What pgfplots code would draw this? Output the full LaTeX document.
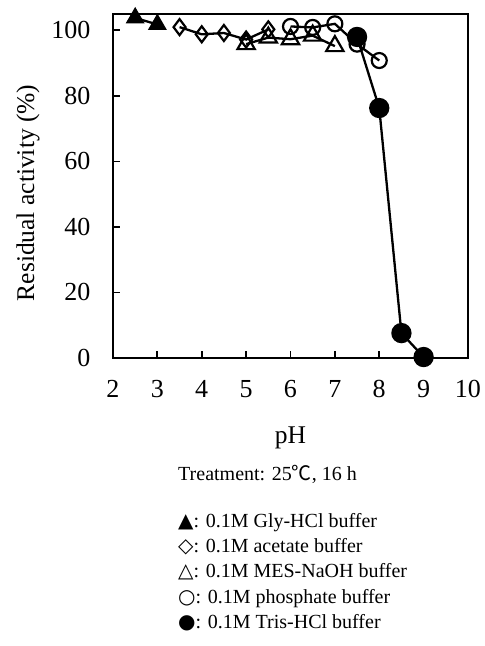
\documentclass[border=0pt]{standalone}
\usepackage{fontspec}
\setmainfont{Liberation Serif}
\newfontfamily\symfont{DejaVu Sans}
\newfontfamily\cjk{Noto Sans CJK JP}
\usepackage{pgfplots}
\pgfplotsset{compat=1.18}

\begin{document}
\begin{tikzpicture}
\begin{axis}[
  name=main, at={(0,0)}, anchor=south west,
  scale only axis, width=355pt, height=344pt,
  xmin=2, xmax=10, ymin=0, ymax=105,
  xtick={2,...,10}, ytick={0,20,...,100},
  tick align=inside, tick pos=left, major tick length=7pt,
  axis line style={line width=2.3pt},
  every tick/.style={line width=1.8pt, black},
  ticklabel style={font=\fontsize{26}{30}\selectfont},
  /pgf/number format/assume math mode=true,
  yticklabel shift=19pt, xticklabel shift=19pt,
  xlabel={pH}, ylabel={Residual activity (\%)},
  label style={font=\fontsize{25.5}{30}\selectfont},
  xlabel style={at={(axis description cs:0.5,0)}, anchor=base, yshift=-85pt},
  ylabel style={at={(axis description cs:-0.239,0.48)}, anchor=center},
  clip=false,
  every axis plot/.append style={line width=2.3pt, black},
]
% Gly-HCl
\addplot[mark=triangle*, mark size=10pt, mark options={fill=black, line width=1pt}] coordinates {
  (2.5,103.8) (3.0,101.8)
};
% acetate
\addplot[mark=diamond, mark size=8pt, mark options={fill=white, line width=2.2pt}] coordinates {
  (3.5,101.0) (4.0,98.8) (4.5,99.2) (5.0,97.2) (5.5,100.3)
};
% MES-NaOH
\addplot[mark=triangle, mark size=10pt, mark options={fill=white, line width=2.2pt}] coordinates {
  (5.0,95.8) (5.5,97.8) (6.0,97.3) (6.5,98.4) (7.0,95.2)
};
% phosphate
\addplot[mark=o, mark size=7.5pt, mark options={fill=white, line width=2.2pt}] coordinates {
  (6.0,101.2) (6.5,100.9) (7.0,102.0) (7.5,95.8) (8.0,90.8)
};
% Tris-HCl
\addplot[mark=*, mark size=9pt, mark options={fill=black}] coordinates {
  (7.5,98.0) (8.0,76.3) (8.5,7.6) (9.0,0.3)
};
\end{axis}

\begin{scope}[every node/.style={anchor=base west, inner sep=0pt, font=\fontsize{20}{24}\selectfont}]
\node at ([xshift=65pt,yshift=-122pt]main.south west) {Treatment: 25{\cjk ℃}, 16 h};
\node at ([xshift=65pt,yshift=-169pt]main.south west) {{\symfont ▲}: 0.1M Gly-HCl buffer};
\node at ([xshift=65pt,yshift=-194pt]main.south west) {{\symfont ◇}: 0.1M acetate buffer};
\node at ([xshift=65pt,yshift=-219pt]main.south west) {{\symfont △}: 0.1M MES-NaOH buffer};
\node at ([xshift=65pt,yshift=-245pt]main.south west) {{\symfont ○}: 0.1M phosphate buffer};
\node at ([xshift=65pt,yshift=-270pt]main.south west) {{\symfont ●}: 0.1M Tris-HCl buffer};
\end{scope}

\pgfresetboundingbox
\path[use as bounding box] ([xshift=-113pt,yshift=-288pt]main.south west) rectangle ([xshift=17pt,yshift=14pt]main.north east);
\end{tikzpicture}
\end{document}
